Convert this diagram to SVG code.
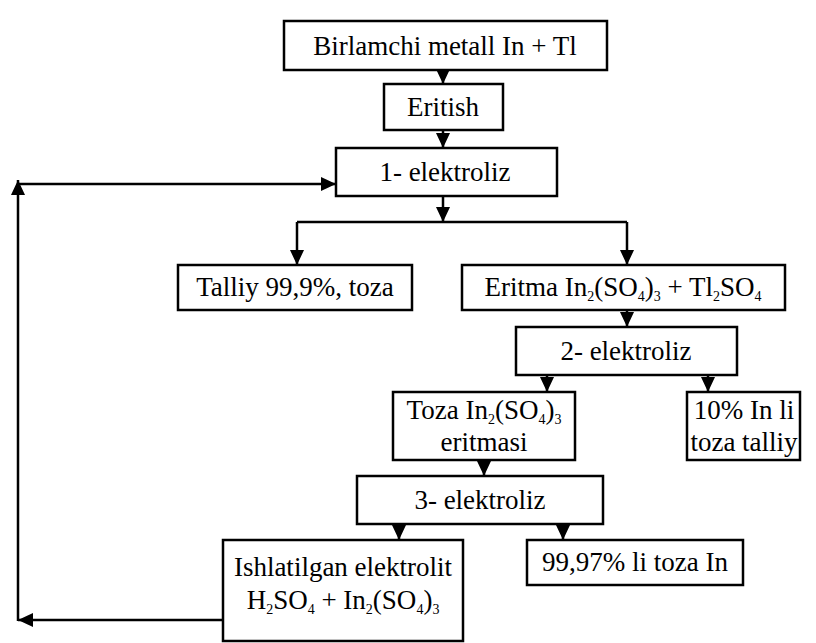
<svg xmlns="http://www.w3.org/2000/svg" width="816" height="643" viewBox="0 0 816 643">
<style>
.box{fill:#fff;stroke:#000;stroke-width:2.5}
.t{font-family:"Liberation Serif","Times New Roman",serif;font-size:27px;fill:#000;text-anchor:middle}
.s{font-size:14px}
.c{fill:none;stroke:#000;stroke-width:2.5}
</style>
<defs>
<marker id="ah" markerUnits="userSpaceOnUse" markerWidth="15" markerHeight="14" viewBox="0 0 15 14" refX="15" refY="7" orient="auto">
<path d="M0,0 L15,7 L0,14 z" fill="#000"/>
</marker>
</defs>
<rect width="816" height="643" fill="#fff"/>
<g id="connectors">
<path class="c" d="M443,70 V84" marker-end="url(#ah)"/>
<path class="c" d="M443,130 V148" marker-end="url(#ah)"/>
<path class="c" d="M443,196 V222"  marker-end="url(#ah)"/>
<path class="c" d="M297,222 H627"/>
<path class="c" d="M297,222 V265" marker-end="url(#ah)"/>
<path class="c" d="M627,222 V265" marker-end="url(#ah)"/>
<path class="c" d="M627,310 V327" marker-end="url(#ah)"/>
<path class="c" d="M547,375 V392" marker-end="url(#ah)"/>
<path class="c" d="M708,375 V392" marker-end="url(#ah)"/>
<path class="c" d="M484,460 V476" marker-end="url(#ah)"/>
<path class="c" d="M399,524 V540" marker-end="url(#ah)"/>
<path class="c" d="M563,524 V540" marker-end="url(#ah)"/>
<path class="c" d="M223,620 H18" marker-end="url(#ah)"/>
<path class="c" d="M18,621 V180" marker-end="url(#ah)"/>
<path class="c" d="M17,184 H336" marker-end="url(#ah)"/>
</g>
<g id="n1"><rect class="box" x="284" y="21" width="323" height="49"/><text class="t" x="445" y="55">Birlamchi metall In + Tl</text></g>
<g id="n2"><rect class="box" x="384" y="84" width="119" height="46"/><text class="t" x="443" y="116">Eritish</text></g>
<g id="n3"><rect class="box" x="336" y="148" width="221" height="48"/><text class="t" x="445" y="181">1- elektroliz</text></g>
<g id="n4"><rect class="box" x="178" y="265" width="234" height="45"/><text class="t" x="295" y="296">Talliy 99,9%, toza</text></g>
<g id="n5"><rect class="box" x="462" y="265" width="323" height="45"/><text class="t" x="623" y="296">Eritma In<tspan class="s" dy="5">2</tspan><tspan dy="-5">(SO</tspan><tspan class="s" dy="5">4</tspan><tspan dy="-5">)</tspan><tspan class="s" dy="5">3</tspan><tspan dy="-5"> + Tl</tspan><tspan class="s" dy="5">2</tspan><tspan dy="-5">SO</tspan><tspan class="s" dy="5">4</tspan></text></g>
<g id="n6"><rect class="box" x="516" y="327" width="221" height="48"/><text class="t" x="626" y="360">2- elektroliz</text></g>
<g id="n7"><rect class="box" x="393" y="392" width="182" height="68"/><text class="t" x="484" y="419">Toza In<tspan class="s" dy="5">2</tspan><tspan dy="-5">(SO</tspan><tspan class="s" dy="5">4</tspan><tspan dy="-5">)</tspan><tspan class="s" dy="5">3</tspan></text><text class="t" x="484" y="451">eritmasi</text></g>
<g id="n8"><rect class="box" x="687" y="392" width="113" height="68"/><text class="t" x="744" y="419">10% In li</text><text class="t" x="744" y="451">toza talliy</text></g>
<g id="n9"><rect class="box" x="357" y="476" width="246" height="48"/><text class="t" x="480" y="509">3- elektroliz</text></g>
<g id="n10"><rect class="box" x="223" y="540" width="240" height="101"/><text class="t" x="343" y="576">Ishlatilgan elektrolit</text><text class="t" x="343" y="609">H<tspan class="s" dy="5">2</tspan><tspan dy="-5">SO</tspan><tspan class="s" dy="5">4</tspan><tspan dy="-5"> + In</tspan><tspan class="s" dy="5">2</tspan><tspan dy="-5">(SO</tspan><tspan class="s" dy="5">4</tspan><tspan dy="-5">)</tspan><tspan class="s" dy="5">3</tspan></text></g>
<g id="n11"><rect class="box" x="527" y="540" width="216" height="45"/><text class="t" x="635" y="571">99,97% li toza In</text></g>
</svg>
